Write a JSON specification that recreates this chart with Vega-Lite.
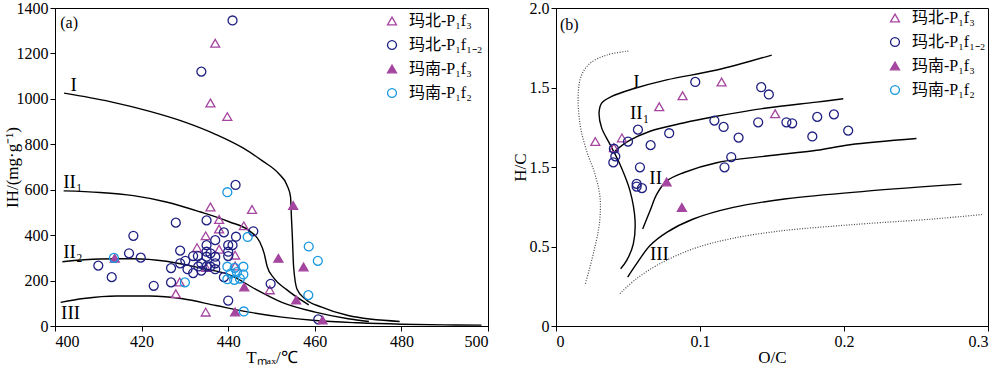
{
  "$schema": "https://vega.github.io/schema/vega-lite/v6.json",
  "autosize": {"type": "none"},
  "padding": {"left": 55, "top": 8, "right": 945, "bottom": 363},
  "spacing": 68,
  "bounds": "flush",
  "config": {
    "view": {"stroke": "black", "strokeWidth": 1},
    "axis": {"domainColor": "black", "tickColor": "black", "labelColor": "black", "titleColor": "black", "labelFont": "Liberation Serif", "titleFont": "Liberation Serif", "labelFontSize": 16, "titleFontSize": 17, "titleFontWeight": "normal", "grid": false, "tickSize": 5, "labelPadding": 2},
    "legend": {"labelFont": "Liberation Serif, Noto Sans CJK SC", "labelFontSize": 16, "labelColor": "black", "symbolSize": 80, "symbolStrokeWidth": 1.3, "rowPadding": 8, "padding": 0, "labelOffset": 9}
  },
  "datasets": {
    "pts_a": [
      {"s": "玛北-P₁f₃", "x": 437.0, "y": 1245}, {"s": "玛北-P₁f₃", "x": 435.9, "y": 982}, {"s": "玛北-P₁f₃", "x": 439.8, "y": 922},
      {"s": "玛北-P₁f₃", "x": 435.9, "y": 524}, {"s": "玛北-P₁f₃", "x": 445.5, "y": 513}, {"s": "玛北-P₁f₃", "x": 437.9, "y": 469},
      {"s": "玛北-P₁f₃", "x": 437.9, "y": 427}, {"s": "玛北-P₁f₃", "x": 443.6, "y": 441}, {"s": "玛北-P₁f₃", "x": 434.8, "y": 397},
      {"s": "玛北-P₁f₃", "x": 432.8, "y": 345}, {"s": "玛北-P₁f₃", "x": 437.9, "y": 338}, {"s": "玛北-P₁f₃", "x": 441.6, "y": 312},
      {"s": "玛北-P₁f₃", "x": 441.6, "y": 264}, {"s": "玛北-P₁f₃", "x": 449.6, "y": 159}, {"s": "玛北-P₁f₃", "x": 427.9, "y": 142},
      {"s": "玛北-P₁f₃", "x": 434.8, "y": 61}, {"s": "玛北-P₁f₃", "x": 428.8, "y": 194}, {"s": "玛北-P₁f₃", "x": 434.9, "y": 258},
      {"s": "玛北-P₁f₁₋₂", "x": 441.0, "y": 1345}, {"s": "玛北-P₁f₁₋₂", "x": 433.8, "y": 1120}, {"s": "玛北-P₁f₁₋₂", "x": 441.7, "y": 621},
      {"s": "玛北-P₁f₁₋₂", "x": 435.0, "y": 465}, {"s": "玛北-P₁f₁₋₂", "x": 427.9, "y": 455}, {"s": "玛北-P₁f₁₋₂", "x": 418.1, "y": 397},
      {"s": "玛北-P₁f₁₋₂", "x": 417.1, "y": 320}, {"s": "玛北-P₁f₁₋₂", "x": 419.8, "y": 301}, {"s": "玛北-P₁f₁₋₂", "x": 410.0, "y": 266},
      {"s": "玛北-P₁f₁₋₂", "x": 413.1, "y": 215}, {"s": "玛北-P₁f₁₋₂", "x": 422.8, "y": 177}, {"s": "玛北-P₁f₁₋₂", "x": 426.8, "y": 255},
      {"s": "玛北-P₁f₁₋₂", "x": 426.8, "y": 192}, {"s": "玛北-P₁f₁₋₂", "x": 428.9, "y": 332}, {"s": "玛北-P₁f₁₋₂", "x": 428.9, "y": 276},
      {"s": "玛北-P₁f₁₋₂", "x": 430.1, "y": 287}, {"s": "玛北-P₁f₁₋₂", "x": 430.6, "y": 250}, {"s": "玛北-P₁f₁₋₂", "x": 431.9, "y": 233},
      {"s": "玛北-P₁f₁₋₂", "x": 431.9, "y": 308}, {"s": "玛北-P₁f₁₋₂", "x": 433.0, "y": 308}, {"s": "玛北-P₁f₁₋₂", "x": 433.8, "y": 244},
      {"s": "玛北-P₁f₁₋₂", "x": 433.8, "y": 276}, {"s": "玛北-P₁f₁₋₂", "x": 435.0, "y": 356}, {"s": "玛北-P₁f₁₋₂", "x": 435.0, "y": 327},
      {"s": "玛北-P₁f₁₋₂", "x": 435.0, "y": 262}, {"s": "玛北-P₁f₁₋₂", "x": 435.0, "y": 305}, {"s": "玛北-P₁f₁₋₂", "x": 435.9, "y": 320},
      {"s": "玛北-P₁f₁₋₂", "x": 435.9, "y": 262}, {"s": "玛北-P₁f₁₋₂", "x": 437.0, "y": 378}, {"s": "玛北-P₁f₁₋₂", "x": 437.0, "y": 305},
      {"s": "玛北-P₁f₁₋₂", "x": 437.0, "y": 276}, {"s": "玛北-P₁f₁₋₂", "x": 437.0, "y": 250}, {"s": "玛北-P₁f₁₋₂", "x": 439.0, "y": 412},
      {"s": "玛北-P₁f₁₋₂", "x": 440.0, "y": 356}, {"s": "玛北-P₁f₁₋₂", "x": 440.0, "y": 308}, {"s": "玛北-P₁f₁₋₂", "x": 441.0, "y": 356},
      {"s": "玛北-P₁f₁₋₂", "x": 441.8, "y": 393}, {"s": "玛北-P₁f₁₋₂", "x": 439.0, "y": 215}, {"s": "玛北-P₁f₁₋₂", "x": 440.0, "y": 112},
      {"s": "玛北-P₁f₁₋₂", "x": 445.8, "y": 417}, {"s": "玛北-P₁f₁₋₂", "x": 449.8, "y": 186}, {"s": "玛北-P₁f₁₋₂", "x": 460.8, "y": 29},
      {"s": "玛北-P₁f₁₋₂", "x": 440.0, "y": 327}, {"s": "玛北-P₁f₁₋₂", "x": 433.1, "y": 262},
      {"s": "玛南-P₁f₃", "x": 455.0, "y": 531}, {"s": "玛南-P₁f₃", "x": 451.6, "y": 298}, {"s": "玛南-P₁f₃", "x": 457.4, "y": 260},
      {"s": "玛南-P₁f₃", "x": 455.7, "y": 115}, {"s": "玛南-P₁f₃", "x": 443.7, "y": 172}, {"s": "玛南-P₁f₃", "x": 441.6, "y": 62},
      {"s": "玛南-P₁f₃", "x": 461.8, "y": 26}, {"s": "玛南-P₁f₃", "x": 413.8, "y": 298},
      {"s": "玛南-P₁f₂", "x": 439.8, "y": 589}, {"s": "玛南-P₁f₂", "x": 444.5, "y": 392}, {"s": "玛南-P₁f₂", "x": 458.6, "y": 350},
      {"s": "玛南-P₁f₂", "x": 460.7, "y": 287}, {"s": "玛南-P₁f₂", "x": 458.5, "y": 136}, {"s": "玛南-P₁f₂", "x": 443.6, "y": 64},
      {"s": "玛南-P₁f₂", "x": 413.6, "y": 300}, {"s": "玛南-P₁f₂", "x": 430.0, "y": 192}, {"s": "玛南-P₁f₂", "x": 439.8, "y": 261},
      {"s": "玛南-P₁f₂", "x": 441.5, "y": 256}, {"s": "玛南-P₁f₂", "x": 443.5, "y": 261}, {"s": "玛南-P₁f₂", "x": 440.6, "y": 232},
      {"s": "玛南-P₁f₂", "x": 442.0, "y": 237}, {"s": "玛南-P₁f₂", "x": 443.5, "y": 227}, {"s": "玛南-P₁f₂", "x": 439.8, "y": 206},
      {"s": "玛南-P₁f₂", "x": 441.4, "y": 203}, {"s": "玛南-P₁f₂", "x": 442.7, "y": 209}
    ],
    "pts_b": [
      {"s": "玛北-P₁f₃", "x": 0.0273, "y": 1.160}, {"s": "玛北-P₁f₃", "x": 0.0458, "y": 1.183}, {"s": "玛北-P₁f₃", "x": 0.0402, "y": 1.121},
      {"s": "玛北-P₁f₃", "x": 0.0717, "y": 1.379}, {"s": "玛北-P₁f₃", "x": 0.0879, "y": 1.448}, {"s": "玛北-P₁f₃", "x": 0.115, "y": 1.535},
      {"s": "玛北-P₁f₃", "x": 0.1522, "y": 1.335},
      {"s": "玛北-P₁f₁₋₂", "x": 0.0967, "y": 1.535}, {"s": "玛北-P₁f₁₋₂", "x": 0.1425, "y": 1.502}, {"s": "玛北-P₁f₁₋₂", "x": 0.1478, "y": 1.456},
      {"s": "玛北-P₁f₁₋₂", "x": 0.0569, "y": 1.235}, {"s": "玛北-P₁f₁₋₂", "x": 0.050, "y": 1.160}, {"s": "玛北-P₁f₁₋₂", "x": 0.0786, "y": 1.2125},
      {"s": "玛北-P₁f₁₋₂", "x": 0.0657, "y": 1.1375}, {"s": "玛北-P₁f₁₋₂", "x": 0.0402, "y": 1.115}, {"s": "玛北-P₁f₁₋₂", "x": 0.0412, "y": 1.067},
      {"s": "玛北-P₁f₁₋₂", "x": 0.0398, "y": 1.029}, {"s": "玛北-P₁f₁₋₂", "x": 0.0583, "y": 0.998}, {"s": "玛北-P₁f₁₋₂", "x": 0.056, "y": 0.894},
      {"s": "玛北-P₁f₁₋₂", "x": 0.056, "y": 0.877}, {"s": "玛北-P₁f₁₋₂", "x": 0.0597, "y": 0.867}, {"s": "玛北-P₁f₁₋₂", "x": 0.110, "y": 1.292},
      {"s": "玛北-P₁f₁₋₂", "x": 0.1164, "y": 1.252}, {"s": "玛北-P₁f₁₋₂", "x": 0.1268, "y": 1.185}, {"s": "玛北-P₁f₁₋₂", "x": 0.1217, "y": 1.0625},
      {"s": "玛北-P₁f₁₋₂", "x": 0.117, "y": 0.998}, {"s": "玛北-P₁f₁₋₂", "x": 0.1404, "y": 1.281}, {"s": "玛北-P₁f₁₋₂", "x": 0.160, "y": 1.281},
      {"s": "玛北-P₁f₁₋₂", "x": 0.164, "y": 1.275}, {"s": "玛北-P₁f₁₋₂", "x": 0.1814, "y": 1.315}, {"s": "玛北-P₁f₁₋₂", "x": 0.178, "y": 1.192},
      {"s": "玛北-P₁f₁₋₂", "x": 0.193, "y": 1.331}, {"s": "玛北-P₁f₁₋₂", "x": 0.2029, "y": 1.229},
      {"s": "玛南-P₁f₃", "x": 0.0768, "y": 0.906}, {"s": "玛南-P₁f₃", "x": 0.0874, "y": 0.746}
    ],
    "curves_a": [
      {"c": "I", "o": 1, "x": 402.1, "y": 1025}, {"c": "I", "o": 2, "x": 412.7, "y": 988}, {"c": "I", "o": 3, "x": 421.9, "y": 945},
      {"c": "I", "o": 4, "x": 429.5, "y": 901}, {"c": "I", "o": 5, "x": 437.2, "y": 843}, {"c": "I", "o": 6, "x": 443.3, "y": 785},
      {"c": "I", "o": 7, "x": 447.9, "y": 727}, {"c": "I", "o": 8, "x": 451.7, "y": 670}, {"c": "I", "o": 9, "x": 453.6, "y": 619},
      {"c": "I", "o": 10, "x": 454.4, "y": 568}, {"c": "I", "o": 11, "x": 454.6, "y": 480}, {"c": "I", "o": 12, "x": 454.8, "y": 400},
      {"c": "I", "o": 13, "x": 455.1, "y": 263}, {"c": "I", "o": 14, "x": 455.9, "y": 162}, {"c": "I", "o": 15, "x": 457.8, "y": 119},
      {"c": "I", "o": 16, "x": 461.6, "y": 83}, {"c": "I", "o": 17, "x": 467.7, "y": 46}, {"c": "I", "o": 18, "x": 479.6, "y": 20},
      {"c": "II1", "o": 1, "x": 402.0, "y": 595}, {"c": "II1", "o": 2, "x": 410.4, "y": 588}, {"c": "II1", "o": 3, "x": 418.1, "y": 574},
      {"c": "II1", "o": 4, "x": 425.7, "y": 546}, {"c": "II1", "o": 5, "x": 433.4, "y": 503}, {"c": "II1", "o": 6, "x": 440.2, "y": 459},
      {"c": "II1", "o": 7, "x": 444.8, "y": 420}, {"c": "II1", "o": 8, "x": 447.3, "y": 370}, {"c": "II1", "o": 9, "x": 448.3, "y": 320},
      {"c": "II1", "o": 10, "x": 449.0, "y": 262}, {"c": "II1", "o": 11, "x": 450.5, "y": 212}, {"c": "II1", "o": 12, "x": 453.5, "y": 160},
      {"c": "II1", "o": 13, "x": 458.6, "y": 93},
      {"c": "II2", "o": 1, "x": 401.7, "y": 283}, {"c": "II2", "o": 2, "x": 410.4, "y": 295}, {"c": "II2", "o": 3, "x": 418.1, "y": 296},
      {"c": "II2", "o": 4, "x": 425.7, "y": 285}, {"c": "II2", "o": 5, "x": 433.4, "y": 256}, {"c": "II2", "o": 6, "x": 441.0, "y": 220},
      {"c": "II2", "o": 7, "x": 446.3, "y": 162}, {"c": "II2", "o": 8, "x": 452.4, "y": 104}, {"c": "II2", "o": 9, "x": 460.1, "y": 61},
      {"c": "II2", "o": 10, "x": 467.7, "y": 32}, {"c": "II2", "o": 11, "x": 472.5, "y": 20},
      {"c": "III", "o": 1, "x": 401.3, "y": 104}, {"c": "III", "o": 2, "x": 406.6, "y": 121}, {"c": "III", "o": 3, "x": 414.3, "y": 132},
      {"c": "III", "o": 4, "x": 421.9, "y": 132}, {"c": "III", "o": 5, "x": 429.5, "y": 120}, {"c": "III", "o": 6, "x": 437.2, "y": 90},
      {"c": "III", "o": 7, "x": 444.8, "y": 61}, {"c": "III", "o": 8, "x": 452.4, "y": 39}, {"c": "III", "o": 9, "x": 460.1, "y": 24},
      {"c": "III", "o": 10, "x": 470.0, "y": 14}, {"c": "III", "o": 11, "x": 480.0, "y": 8}, {"c": "III", "o": 12, "x": 490.0, "y": 5},
      {"c": "III", "o": 13, "x": 498.5, "y": 4}
    ],
    "curves_b": [
      {"c": "I", "o": 1, "x": 0.1498, "y": 1.704}, {"c": "I", "o": 2, "x": 0.1116, "y": 1.61}, {"c": "I", "o": 3, "x": 0.0769, "y": 1.548},
      {"c": "I", "o": 4, "x": 0.0537, "y": 1.492}, {"c": "I", "o": 5, "x": 0.0387, "y": 1.444}, {"c": "I", "o": 6, "x": 0.0317, "y": 1.402},
      {"c": "I", "o": 7, "x": 0.0299, "y": 1.339}, {"c": "I", "o": 8, "x": 0.0317, "y": 1.246}, {"c": "I", "o": 9, "x": 0.0375, "y": 1.142},
      {"c": "I", "o": 10, "x": 0.0444, "y": 1.017}, {"c": "I", "o": 11, "x": 0.0514, "y": 0.85}, {"c": "I", "o": 12, "x": 0.0549, "y": 0.6625},
      {"c": "I", "o": 13, "x": 0.0537, "y": 0.517}, {"c": "I", "o": 14, "x": 0.0491, "y": 0.4125}, {"c": "I", "o": 15, "x": 0.0449, "y": 0.36},
      {"c": "II1", "o": 1, "x": 0.041, "y": 1.10}, {"c": "II1", "o": 2, "x": 0.0502, "y": 1.1625}, {"c": "II1", "o": 3, "x": 0.0653, "y": 1.225},
      {"c": "II1", "o": 4, "x": 0.0884, "y": 1.277}, {"c": "II1", "o": 5, "x": 0.1116, "y": 1.319}, {"c": "II1", "o": 6, "x": 0.1463, "y": 1.371},
      {"c": "II1", "o": 7, "x": 0.181, "y": 1.408}, {"c": "II1", "o": 8, "x": 0.1995, "y": 1.429},
      {"c": "II", "o": 1, "x": 0.0602, "y": 0.61}, {"c": "II", "o": 2, "x": 0.0653, "y": 0.725}, {"c": "II", "o": 3, "x": 0.070, "y": 0.829},
      {"c": "II", "o": 4, "x": 0.0769, "y": 0.9125}, {"c": "II", "o": 5, "x": 0.0884, "y": 0.964}, {"c": "II", "o": 6, "x": 0.1116, "y": 1.027},
      {"c": "II", "o": 7, "x": 0.1463, "y": 1.069}, {"c": "II", "o": 8, "x": 0.181, "y": 1.105}, {"c": "II", "o": 9, "x": 0.2042, "y": 1.14},
      {"c": "II", "o": 10, "x": 0.2503, "y": 1.179},
      {"c": "III", "o": 1, "x": 0.0498, "y": 0.308}, {"c": "III", "o": 2, "x": 0.056, "y": 0.392}, {"c": "III", "o": 3, "x": 0.0653, "y": 0.506},
      {"c": "III", "o": 4, "x": 0.0769, "y": 0.589}, {"c": "III", "o": 5, "x": 0.0954, "y": 0.673}, {"c": "III", "o": 6, "x": 0.1231, "y": 0.746},
      {"c": "III", "o": 7, "x": 0.16, "y": 0.80}, {"c": "III", "o": 8, "x": 0.2157, "y": 0.848}, {"c": "III", "o": 9, "x": 0.2817, "y": 0.892}
    ],
    "dots_b": [
      {"c": "D1", "o": 1, "x": 0.0502, "y": 1.729}, {"c": "D1", "o": 2, "x": 0.0352, "y": 1.704}, {"c": "D1", "o": 3, "x": 0.0236, "y": 1.652},
      {"c": "D1", "o": 4, "x": 0.0178, "y": 1.579}, {"c": "D1", "o": 5, "x": 0.0155, "y": 1.475}, {"c": "D1", "o": 6, "x": 0.0167, "y": 1.267},
      {"c": "D1", "o": 7, "x": 0.0213, "y": 1.10}, {"c": "D1", "o": 8, "x": 0.0271, "y": 0.954}, {"c": "D1", "o": 9, "x": 0.0306, "y": 0.808},
      {"c": "D1", "o": 10, "x": 0.0301, "y": 0.642}, {"c": "D1", "o": 11, "x": 0.0259, "y": 0.454}, {"c": "D1", "o": 12, "x": 0.0201, "y": 0.256},
      {"c": "D2", "o": 1, "x": 0.0444, "y": 0.204}, {"c": "D2", "o": 2, "x": 0.056, "y": 0.298}, {"c": "D2", "o": 3, "x": 0.0722, "y": 0.392},
      {"c": "D2", "o": 4, "x": 0.0954, "y": 0.486}, {"c": "D2", "o": 5, "x": 0.1231, "y": 0.552}, {"c": "D2", "o": 6, "x": 0.1579, "y": 0.600},
      {"c": "D2", "o": 7, "x": 0.1926, "y": 0.628}, {"c": "D2", "o": 8, "x": 0.2157, "y": 0.644}, {"c": "D2", "o": 9, "x": 0.262, "y": 0.673},
      {"c": "D2", "o": 10, "x": 0.2968, "y": 0.702}
    ],
    "lab_a": [
      {"x": 403.6, "y": 1062, "t": "I"}, {"x": 401.9, "y": 633, "t": "II₁"}, {"x": 401.9, "y": 327, "t": "II₂"}, {"x": 401.4, "y": 58, "t": "III"}
    ],
    "lab_b": [
      {"x": 0.0537, "y": 1.5375, "t": "I"}, {"x": 0.0514, "y": 1.34, "t": "II₁"}, {"x": 0.0648, "y": 0.933, "t": "II"}, {"x": 0.0652, "y": 0.45, "t": "III"}
    ],
    "tag_a": [{"x": 401.2, "y": 1335, "t": "(a)"}],
    "tag_b": [{"x": 0.0028, "y": 1.896, "t": "(b)"}]
  },
  "hconcat": [
    {
      "width": 433,
      "height": 318,
      "layer": [
        {
          "data": {"name": "curves_a"},
          "mark": {"type": "line", "color": "black", "strokeWidth": 1.4, "interpolate": "monotone"},
          "encoding": {
            "x": {"field": "x", "type": "quantitative", "scale": {"domain": [400, 500], "nice": false}, "axis": {"values": [400, 420, 440, 460, 480, 500], "format": "d", "title": "Tₘₐₓ/℃", "titlePadding": 0}},
            "y": {"field": "y", "type": "quantitative", "scale": {"domain": [0, 1400], "nice": false}, "axis": {"values": [0, 200, 400, 600, 800, 1000, 1200, 1400], "format": "d", "title": "IH/(mg·g⁻¹)", "titlePadding": -5}},
            "detail": {"field": "c"},
            "order": {"field": "o", "type": "quantitative"}
          }
        },
        {
          "data": {"name": "pts_a"},
          "mark": {"type": "point", "strokeWidth": 1.3, "size": 80, "opacity": 1},
          "encoding": {
            "x": {"field": "x", "type": "quantitative"},
            "y": {"field": "y", "type": "quantitative"},
            "shape": {"field": "s", "type": "nominal", "scale": {"domain": ["玛北-P₁f₃", "玛北-P₁f₁₋₂", "玛南-P₁f₃", "玛南-P₁f₂"], "range": ["triangle-up", "circle", "triangle-up", "circle"]}, "legend": {"title": null, "orient": "top-right", "offset": 5}},
            "stroke": {"field": "s", "type": "nominal", "scale": {"domain": ["玛北-P₁f₃", "玛北-P₁f₁₋₂", "玛南-P₁f₃", "玛南-P₁f₂"], "range": ["#a4459f", "#1f1f82", "#a4459f", "#1a98e0"]}},
            "fill": {"field": "s", "type": "nominal", "scale": {"domain": ["玛北-P₁f₃", "玛北-P₁f₁₋₂", "玛南-P₁f₃", "玛南-P₁f₂"], "range": ["transparent", "transparent", "#a4459f", "transparent"]}}
          }
        },
        {
          "data": {"name": "lab_a"},
          "mark": {"type": "text", "align": "left", "baseline": "middle", "font": "Liberation Serif", "fontSize": 19, "color": "black"},
          "encoding": {"x": {"field": "x", "type": "quantitative"}, "y": {"field": "y", "type": "quantitative"}, "text": {"field": "t"}}
        },
        {
          "data": {"name": "tag_a"},
          "mark": {"type": "text", "align": "left", "baseline": "middle", "font": "Liberation Serif", "fontSize": 16, "color": "black"},
          "encoding": {"x": {"field": "x", "type": "quantitative"}, "y": {"field": "y", "type": "quantitative"}, "text": {"field": "t"}}
        }
      ]
    },
    {
      "width": 432,
      "height": 318,
      "layer": [
        {
          "data": {"name": "dots_b"},
          "mark": {"type": "line", "color": "#444444", "strokeWidth": 1.2, "strokeDash": [1, 1.6], "interpolate": "catmull-rom"},
          "encoding": {
            "x": {"field": "x", "type": "quantitative", "scale": {"domain": [0, 0.3], "nice": false}, "axis": {"values": [0, 0.1, 0.2, 0.3], "labelExpr": "datum.value == 0 ? '0' : format(datum.value, '.1f')", "title": "O/C", "titlePadding": 0}},
            "y": {"field": "y", "type": "quantitative", "scale": {"domain": [0, 2], "nice": false}, "axis": {"values": [0, 0.5, 1, 1.5, 2], "labelExpr": "datum.value == 0 ? '0' : datum.value == 1 ? '1.5' : format(datum.value, '.1f')", "title": "H/C", "titlePadding": 0}},
            "detail": {"field": "c"},
            "order": {"field": "o", "type": "quantitative"}
          }
        },
        {
          "data": {"name": "curves_b"},
          "mark": {"type": "line", "color": "black", "strokeWidth": 1.4, "interpolate": "catmull-rom"},
          "encoding": {
            "x": {"field": "x", "type": "quantitative"},
            "y": {"field": "y", "type": "quantitative"},
            "detail": {"field": "c"},
            "order": {"field": "o", "type": "quantitative"}
          }
        },
        {
          "data": {"name": "pts_b"},
          "mark": {"type": "point", "strokeWidth": 1.3, "size": 80, "opacity": 1},
          "encoding": {
            "x": {"field": "x", "type": "quantitative"},
            "y": {"field": "y", "type": "quantitative"},
            "shape": {"field": "s", "type": "nominal", "scale": {"domain": ["玛北-P₁f₃", "玛北-P₁f₁₋₂", "玛南-P₁f₃", "玛南-P₁f₂"], "range": ["triangle-up", "circle", "triangle-up", "circle"]}, "legend": {"title": null, "orient": "top-right", "offset": 2}},
            "stroke": {"field": "s", "type": "nominal", "scale": {"domain": ["玛北-P₁f₃", "玛北-P₁f₁₋₂", "玛南-P₁f₃", "玛南-P₁f₂"], "range": ["#a4459f", "#1f1f82", "#a4459f", "#1a98e0"]}},
            "fill": {"field": "s", "type": "nominal", "scale": {"domain": ["玛北-P₁f₃", "玛北-P₁f₁₋₂", "玛南-P₁f₃", "玛南-P₁f₂"], "range": ["transparent", "transparent", "#a4459f", "transparent"]}}
          }
        },
        {
          "data": {"name": "lab_b"},
          "mark": {"type": "text", "align": "left", "baseline": "middle", "font": "Liberation Serif", "fontSize": 19, "color": "black"},
          "encoding": {"x": {"field": "x", "type": "quantitative"}, "y": {"field": "y", "type": "quantitative"}, "text": {"field": "t"}}
        },
        {
          "data": {"name": "tag_b"},
          "mark": {"type": "text", "align": "left", "baseline": "middle", "font": "Liberation Serif", "fontSize": 16, "color": "black"},
          "encoding": {"x": {"field": "x", "type": "quantitative"}, "y": {"field": "y", "type": "quantitative"}, "text": {"field": "t"}}
        }
      ]
    }
  ],
  "resolve": {"legend": {"shape": "independent", "stroke": "independent", "fill": "independent"}}
}
